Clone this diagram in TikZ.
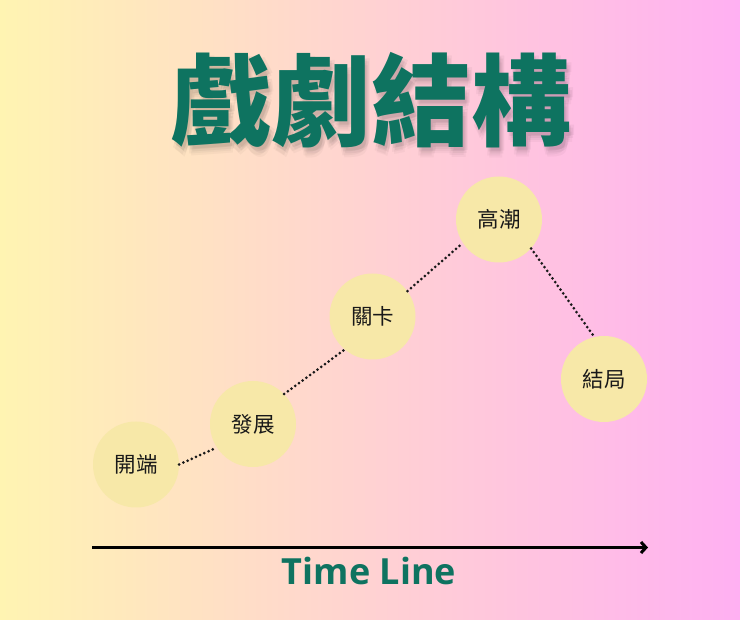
\documentclass[tikz,border=0pt]{standalone}
\usepackage{fontspec}
\newfontfamily\cjk{Noto Sans CJK TC}
\newfontfamily\latinbold{Open Sans}
\usetikzlibrary{arrows.meta}
\definecolor{bgleft}{RGB}{255,244,178}
\definecolor{bgright}{RGB}{255,176,242}
\definecolor{teal}{RGB}{14,115,96}
\definecolor{bubble}{RGB}{247,232,168}
\tikzset{
  stage/.style={circle, fill=bubble, minimum size=86pt, inner sep=0pt,
    font=\cjk\fontsize{21.5pt}{21.5pt}\selectfont, text=black!90},
  dotline/.style={line width=3pt, line cap=round, dash pattern=on 0pt off 4.6pt, black!90},
  titletext/.style={font=\cjk\bfseries\fontsize{100pt}{100pt}\selectfont},
}
\begin{document}
\begin{tikzpicture}[x=1pt,y=-1pt]
\useasboundingbox (0,0) rectangle (740,620);
\shade[left color=bgleft, right color=bgright] (0,0) rectangle (740,620);
% soft title shadow
\foreach \dx/\dy/\op in {2/4/0.05,4/6/0.045,1/8/0.035,5/3/0.04,3/10/0.03}{
  \node[titletext, text=black, opacity=\op] at (371.5+\dx,100+\dy) {戲劇結構};
}
\node[titletext, text=teal] (title) at (371.5,100) {戲劇結構};
% stages
\node[stage] (a) at (136,464.5) {開端};
\node[stage] (b) at (253,424) {發展};
\node[stage] (c) at (372.5,316.5) {關卡};
\node[stage] (d) at (499,219.5) {高潮};
\node[stage] (e) at (604,379) {結局};
\draw[dotline] (a.0) -- (b.213);
\draw[dotline] (b.44) -- (c.230);
\draw[dotline] (c.36) -- (d.213);
\draw[dotline] (d.318) -- (e.103);
% time line
\coordinate (t0) at (92,547.5);
\coordinate (t1) at (648,547.5);
\draw[line width=3pt, black, -{Straight Barb[length=5pt,width=11pt,line width=3pt]}] (t0) -- (t1);
\node[anchor=base, text=teal, font=\latinbold\bfseries\fontsize{36pt}{36pt}\selectfont] (tl) at (369,585) {Time Line};
\end{tikzpicture}
\end{document}
